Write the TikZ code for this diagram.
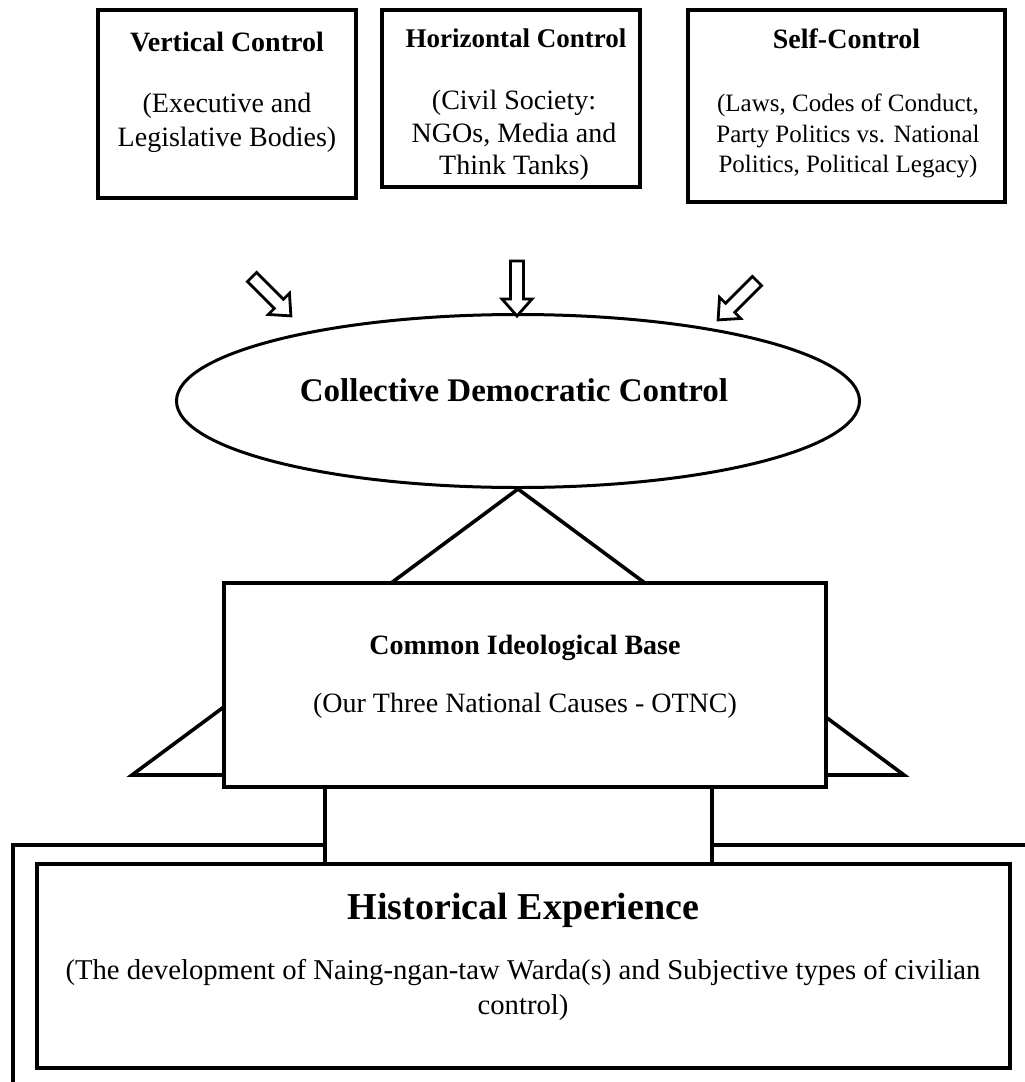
\documentclass[tikz,border=0pt]{standalone}
\usepackage{fontspec}
\setmainfont{Liberation Serif}
\usetikzlibrary{shapes.geometric}
\begin{document}
\begin{tikzpicture}[x=1pt,y=-1pt,
  frame/.style={draw, line width=3.6pt, line join=miter},
  box/.style={draw, line width=3.6pt, fill=white, inner sep=0pt},
  ttl/.style={font=\fontsize{28}{34}\selectfont\bfseries, inner sep=0pt, anchor=base},
  txt/.style={font=\fontsize{28}{34}\selectfont, inner sep=0pt, anchor=base},
  stxt/.style={font=\fontsize{25}{30}\selectfont, inner sep=0pt, anchor=base},
  btxt/.style={font=\fontsize{28.7}{35}\selectfont, inner sep=0pt, anchor=base},
  blockarrow/.pic={\draw[line width=2.8pt, line join=miter, fill=white]
     (-6.5,0) -- (-6.5,38) -- (-15,38) -- (0,55) -- (15,38) -- (6.5,38) -- (6.5,0) -- cycle;}
]
\useasboundingbox (0,0) rectangle (1025,1082);

% top boxes
\node[box, minimum width=258pt, minimum height=188pt] (vc) at (227,104) {};
\node[ttl] (vct) at (227,51) {Vertical Control};
\node[txt] (vcb1) at (227,112) {(Executive and};
\node[txt] (vcb2) at (227,146) {Legislative Bodies)};

\node[box, minimum width=258pt, minimum height=177pt] (hc) at (511,98.5) {};
\node[font=\fontsize{27}{33}\selectfont\bfseries, inner sep=0pt, anchor=base] (hct) at (516,47) {Horizontal Control};
\node[txt] (hcb1) at (514,109) {(Civil Society:};
\node[txt] (hcb2) at (514,142) {NGOs, Media and};
\node[txt] (hcb3) at (514,174) {Think Tanks)};

\node[box, minimum width=317pt, minimum height=192pt] (sc) at (846.5,106) {};
\node[ttl] (sct) at (846.5,48) {Self-Control};
\node[stxt] (scb1) at (848,111) {(Laws, Codes of Conduct,};
\node[stxt] (scb2) at (848,142) {Party Politics vs. National};
\node[stxt] (scb3) at (848,172) {Politics, Political Legacy)};

% ellipse
\node[ellipse, draw, line width=3pt, minimum width=683pt, minimum height=173pt, inner sep=0pt] (cdc) at (518,401) {};
\node[font=\fontsize{33}{39}\selectfont\bfseries, inner sep=0pt, anchor=base] (cdct) at (514,401) {Collective Democratic Control};

% block arrows
\pic[rotate=45] at (252,277) {blockarrow};
\pic at (517,261) {blockarrow};
\pic[rotate=-45] at (757,281) {blockarrow};

% triangle behind the base box
\coordinate (tl) at (132,775);
\coordinate (tr) at (904,775);
\draw[frame] (cdc.south) -- (tl) -- (tr) -- cycle;

% common ideological base
\node[box, minimum width=602pt, minimum height=204pt] (cib) at (525,685) {};
\node[ttl] (cibt) at (525,654) {Common Ideological Base};
\node[txt] (cibb) at (525,712) {(Our Three National Causes - OTNC)};

% pillar and outer frame
\coordinate (pl) at (325,787);
\coordinate (pr) at (712,787);
\coordinate (pl2) at (325,866);
\coordinate (pr2) at (712,866);
\coordinate (fl) at (13,845);
\coordinate (fb) at (13,1090);
\coordinate (fr) at (1030,845);
\draw[frame] (pl) -- (pl2);
\draw[frame] (pr) -- (pr2);
\draw[frame] (pl |- fl) -- (fl) -- (fb);
\draw[frame] (pr |- fr) -- (fr);

% historical experience
\node[box, minimum width=973pt, minimum height=204pt] (he) at (523.5,966) {};
\node[font=\fontsize{38}{44}\selectfont\bfseries, inner sep=0pt, anchor=base] (het) at (523.5,919) {Historical Experience};
\node[btxt] (heb1) at (523,979) {(The development of Naing-ngan-taw Warda(s) and Subjective types of civilian};
\node[btxt] (heb2) at (523,1014) {control)};
\end{tikzpicture}
\end{document}
